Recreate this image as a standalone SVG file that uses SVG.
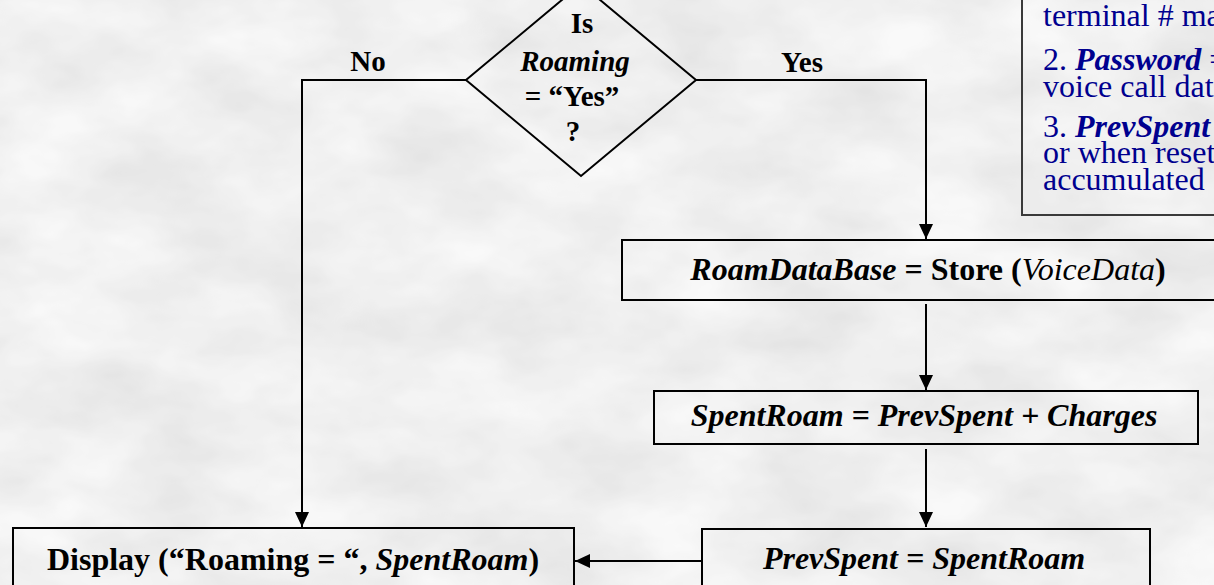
<svg xmlns="http://www.w3.org/2000/svg" width="1214" height="585" viewBox="0 0 1214 585">
<defs>
<filter id="marble" x="0" y="0" width="100%" height="100%" filterUnits="userSpaceOnUse">
<feTurbulence type="fractalNoise" baseFrequency="0.008 0.014" numOctaves="4" seed="7"/>
<feColorMatrix type="matrix" values="0.35 0 0 0 0.72  0.35 0 0 0 0.72  0.35 0 0 0 0.72  0 0 0 0 1"/>
</filter>
<marker id="arr" markerUnits="userSpaceOnUse" markerWidth="16" markerHeight="14" refX="15" refY="7" orient="auto">
<path d="M0,0 L15,7 L0,14 z" fill="#000"/>
</marker>
<style>
.t{font-family:"Liberation Serif","Times New Roman",serif;fill:#000;}
.b{font-weight:bold;}
.i{font-style:italic;}
.n{font-weight:normal;}
.box{fill:none;stroke:#000;stroke-width:2;}
.con{fill:none;stroke:#000;stroke-width:2;}
.note{font-family:"Liberation Serif","Times New Roman",serif;fill:#00008f;font-size:32px;}
</style>
</defs>
<rect x="0" y="0" width="1214" height="585" fill="#e4e4e4"/>
<rect x="0" y="0" width="1214" height="585" filter="url(#marble)" opacity="0.8"/>

<g id="connectors">
<path class="con" d="M466,80 H302 V527" marker-end="url(#arr)"/>
<path class="con" d="M695,80 H926 V239" marker-end="url(#arr)"/>
<path class="con" d="M926,304 V390" marker-end="url(#arr)"/>
<path class="con" d="M926,449 V527" marker-end="url(#arr)"/>
<path class="con" d="M702,561 H575" marker-end="url(#arr)"/>
<text class="t b" x="368" y="71" font-size="29" text-anchor="middle">No</text>
<text class="t b" x="802" y="72" font-size="29" text-anchor="middle">Yes</text>
</g>

<g id="decision">
<polygon class="box" points="581,-16 696,80 581,176 466,80" fill="none"/>
<text class="t b" x="582" y="33" font-size="29" text-anchor="middle">Is</text>
<text class="t b i" x="575" y="71" font-size="29" text-anchor="middle">Roaming</text>
<text class="t b" x="572" y="106" font-size="29" text-anchor="middle">= “Yes”</text>
<text class="t b" x="573" y="141" font-size="29" text-anchor="middle">?</text>
</g>

<g id="note">
<rect x="1022" y="-10" width="300" height="225" fill="none" stroke="#3a3a3a" stroke-width="2"/>
<text class="note" x="1043" y="26">terminal # ma</text>
<text class="note" x="1043" y="70">2. <tspan font-weight="bold" font-style="italic">Password</tspan> =</text>
<text class="note" x="1043" y="97">voice call dat</text>
<text class="note" x="1043" y="137">3. <tspan font-weight="bold" font-style="italic">PrevSpent</tspan></text>
<text class="note" x="1043" y="163">or when reset</text>
<text class="note" x="1043" y="190">accumulated</text>
</g>

<g id="store">
<rect class="box" x="622" y="240" width="610" height="60"/>
<text class="t b" x="928" y="280" font-size="32" text-anchor="middle"><tspan font-style="italic">RoamDataBase</tspan> = Store (<tspan font-style="italic" font-weight="normal">VoiceData</tspan>)</text>
</g>

<g id="spent">
<rect class="box" x="654" y="391" width="544" height="53"/>
<text class="t b i" x="924" y="426" font-size="32" text-anchor="middle">SpentRoam = PrevSpent + Charges</text>
</g>

<g id="prev">
<rect class="box" x="702" y="529" width="448" height="70"/>
<text class="t b i" x="924" y="569" font-size="32" text-anchor="middle">PrevSpent = SpentRoam</text>
</g>

<g id="display">
<rect class="box" x="13" y="528" width="561" height="70"/>
<text class="t b" x="293" y="570" font-size="32" text-anchor="middle">Display (“Roaming = “, <tspan font-style="italic">SpentRoam</tspan>)</text>
</g>
</svg>
